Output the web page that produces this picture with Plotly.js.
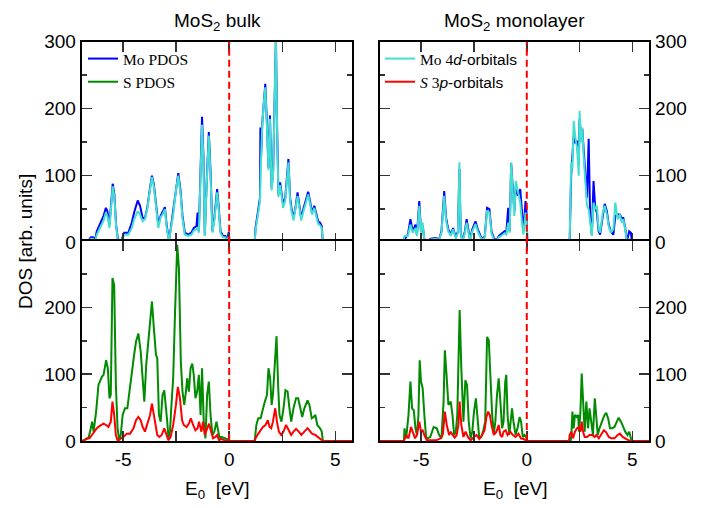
<!DOCTYPE html>
<html>
<head>
<meta charset="utf-8">
<script src="https://cdn.plot.ly/plotly-3.0.1.min.js"></script>
<style>html,body{margin:0;padding:0;background:#fff;}#chart{width:717px;height:508px;}</style>
</head>
<body>
<div id="chart"></div>
<script>
// ---------------- DATA ----------------
// Panel titles / axis labels
const columnTitles = ["MoS<sub>2</sub> bulk", "MoS<sub>2</sub> monolayer"];
const xAxisTitle = "E<sub>0</sub>  [eV]";
const yAxisTitle = "DOS [arb. units]";
const xTickVals = [-5, 0, 5];
const xTickText = ["-5", "0", "5"];
const yTickValsTop = [0, 100, 200, 300];
const yTickValsBottom = [0, 100, 200];

// MoS2 bulk, Mo PDOS (blue)
const bulkMoPdosE = [-6.95,-6.86,-6.63,-6.52,-6.42,-6.32,-6.24,-6.08,-5.92,-5.81,-5.74,-5.64,-5.58,-5.49,-5.41,-5.33,-5.25,-5.17,-5.06,-4.95,-4.75,-4.59,-4.48,-4.31,-4.20,-4.08,-3.97,-3.86,-3.73,-3.64,-3.55,-3.45,-3.34,-3.23,-3.14,-3.03,-2.95,-2.84,-2.75,-2.64,-2.51,-2.40,-2.29,-2.20,-2.09,-1.93,-1.78,-1.67,-1.54,-1.49,-1.43,-1.35,-1.28,-1.21,-1.15,-1.06,-0.96,-0.88,-0.79,-0.70,-0.57,-0.49,-0.41,-0.29,-0.18,-0.10,-0.02,0.01,1.18,1.20,1.24,1.31,1.38,1.45,1.47,1.50,1.56,1.64,1.70,1.78,1.85,1.92,2.00,2.07,2.15,2.20,2.26,2.32,2.40,2.48,2.54,2.64,2.71,2.79,2.87,2.93,3.03,3.12,3.22,3.31,3.39,3.51,3.62,3.72,3.81,3.90,4.01,4.09,4.19,4.28,4.36,4.41,5.80];
const bulkMoPdos = [0,2,3,8,8,5,17,28,40,52,47,27,52,88,72,27,7,1,5,15,15,30,45,63,55,37,37,52,82,100,87,55,27,40,45,53,27,3,22,47,82,104,77,40,15,12,15,22,25,45,17,117,188,127,12,92,165,107,17,37,80,52,17,10,10,3,16,0,0,1,22,37,57,67,172,127,180,215,237,177,112,190,82,107,217,305,167,72,90,72,57,67,97,125,67,52,37,52,75,57,37,52,67,76,62,45,55,45,32,30,25,0,0];

// MoS2 bulk, Mo 4d orbitals (turquoise)
const bulkMo4dE = [-6.95,-6.86,-6.63,-6.52,-6.42,-6.32,-6.24,-6.08,-5.92,-5.81,-5.74,-5.64,-5.58,-5.49,-5.41,-5.33,-5.25,-5.17,-5.06,-4.95,-4.75,-4.59,-4.48,-4.31,-4.20,-4.08,-3.97,-3.86,-3.73,-3.64,-3.55,-3.45,-3.34,-3.23,-3.14,-3.03,-2.95,-2.84,-2.75,-2.64,-2.51,-2.40,-2.29,-2.20,-2.09,-1.93,-1.78,-1.67,-1.54,-1.49,-1.43,-1.35,-1.28,-1.21,-1.15,-1.06,-0.96,-0.88,-0.79,-0.70,-0.57,-0.49,-0.41,-0.29,-0.18,-0.10,-0.02,0.01,1.18,1.20,1.24,1.31,1.38,1.45,1.50,1.56,1.64,1.70,1.78,1.85,1.92,2.00,2.07,2.15,2.20,2.26,2.32,2.40,2.48,2.54,2.64,2.71,2.79,2.87,2.93,3.03,3.12,3.22,3.31,3.39,3.51,3.62,3.72,3.81,3.90,4.01,4.09,4.19,4.28,4.36,4.41,5.80];
const bulkMo4d = [0,1,2,6,6,3,12,22,33,45,40,22,48,84,68,25,5,0,4,12,12,22,35,47,42,32,35,50,80,98,84,52,22,38,42,50,24,2,18,42,78,100,73,36,12,10,12,18,20,22,15,110,176,120,10,88,160,100,15,33,75,48,14,8,8,2,10,0,0,0,18,33,52,62,125,178,212,232,172,108,185,78,102,212,305,162,68,86,68,52,63,92,120,62,48,33,48,70,52,33,48,62,72,58,42,52,42,28,26,22,0,0];

// MoS2 monolayer, Mo PDOS (blue)
const monoMoE = [-6.95,-5.87,-5.79,-5.63,-5.51,-5.40,-5.27,-5.20,-5.09,-5.01,-4.93,-4.85,-4.73,-4.54,-4.30,-4.15,-4.04,-3.91,-3.82,-3.72,-3.60,-3.49,-3.36,-3.26,-3.19,-3.13,-3.05,-2.93,-2.85,-2.77,-2.69,-2.58,-2.43,-2.32,-2.19,-2.08,-1.99,-1.88,-1.77,-1.67,-1.56,-1.44,-1.33,-1.22,-1.14,-1.05,-0.97,-0.88,-0.81,-0.74,-0.66,-0.59,-0.52,-0.42,-0.31,-0.23,-0.16,-0.06,-0.02,0.03,2.00,2.03,2.10,2.16,2.22,2.30,2.38,2.46,2.50,2.57,2.63,2.69,2.77,2.85,2.93,3.00,3.08,3.16,3.24,3.32,3.40,3.47,3.60,3.69,3.79,3.88,3.97,4.10,4.19,4.30,4.41,4.49,4.57,4.66,4.74,4.85,4.93,4.98,5.80];
const monoMoPdos = [0,0,5,12,35,17,27,12,62,17,25,5,2,6,7,5,17,77,37,20,12,22,8,17,110,17,2,17,35,17,5,20,32,20,10,5,10,52,50,17,7,3,10,13,15,17,15,52,17,118,80,47,85,70,80,37,17,62,52,0,0,2,100,130,160,150,152,117,185,160,170,140,107,67,155,37,12,92,52,45,17,12,40,58,47,27,17,12,40,42,42,37,37,22,2,17,15,0,0];
// MoS2 monolayer, Mo 4d orbitals (turquoise)
const monoMo4d = [0,0,10,10,27,15,22,10,55,15,30,4,2,5,6,4,15,70,33,17,10,20,6,15,120,15,1,15,30,15,4,17,28,17,8,4,8,48,45,14,5,2,8,10,12,14,12,30,15,120,75,40,92,75,60,30,12,45,40,0,0,2,120,110,182,157,142,100,197,150,172,130,95,55,50,30,10,60,50,55,20,15,45,55,42,25,15,20,60,35,42,30,35,20,2,5,3,0,0];

// MoS2 bulk, S PDOS (green)
const bulkSPdosE = [-6.95,-6.86,-6.63,-6.52,-6.46,-6.39,-6.27,-6.16,-6.00,-5.92,-5.80,-5.72,-5.64,-5.58,-5.50,-5.42,-5.34,-5.26,-5.18,-5.11,-5.02,-4.91,-4.80,-4.70,-4.59,-4.48,-4.39,-4.28,-4.17,-4.08,-4.00,-3.91,-3.80,-3.70,-3.64,-3.55,-3.45,-3.39,-3.31,-3.23,-3.14,-3.06,-2.98,-2.92,-2.86,-2.79,-2.73,-2.64,-2.56,-2.51,-2.45,-2.37,-2.28,-2.20,-2.12,-2.04,-1.98,-1.90,-1.82,-1.74,-1.67,-1.59,-1.51,-1.43,-1.35,-1.28,-1.20,-1.12,-1.04,-0.96,-0.88,-0.79,-0.70,-0.60,-0.52,-0.45,-0.37,-0.21,-0.10,-0.01,1.20,1.28,1.37,1.48,1.59,1.68,1.78,1.85,1.93,2.00,2.06,2.15,2.23,2.31,2.37,2.46,2.56,2.65,2.75,2.84,2.92,3.03,3.15,3.25,3.34,3.44,3.54,3.69,3.78,3.89,3.98,4.06,4.15,4.28,4.36,4.41,4.48,5.80];
const bulkSPdos = [0,1,4,19,29,14,44,84,96,99,121,109,64,69,244,234,84,19,1,9,39,49,49,74,106,129,149,161,134,94,59,114,154,191,209,169,129,124,39,29,69,76,54,29,4,14,49,94,184,244,294,259,119,74,54,74,94,74,109,116,99,64,74,99,39,109,29,4,69,89,39,9,14,29,14,4,6,4,3,0,0,24,34,34,49,59,69,109,94,54,69,109,157,79,39,29,49,76,74,49,29,49,64,64,49,36,49,61,54,34,36,39,24,19,14,1,0,0];

// MoS2 bulk, S 3p orbitals (red)
const bulkS3pE = [-6.95,-6.86,-6.71,-6.58,-6.47,-6.36,-6.24,-6.08,-5.92,-5.80,-5.69,-5.58,-5.50,-5.42,-5.34,-5.25,-5.11,-4.98,-4.83,-4.67,-4.51,-4.39,-4.28,-4.17,-4.08,-3.97,-3.86,-3.73,-3.64,-3.55,-3.45,-3.39,-3.29,-3.18,-3.06,-2.95,-2.86,-2.76,-2.64,-2.51,-2.42,-2.32,-2.22,-2.14,-2.01,-1.90,-1.81,-1.70,-1.59,-1.49,-1.42,-1.31,-1.23,-1.15,-1.04,-0.95,-0.85,-0.76,-0.65,-0.57,-0.48,-0.37,-0.21,-0.01,1.20,1.24,1.37,1.48,1.59,1.71,1.82,1.90,1.98,2.06,2.17,2.25,2.34,2.45,2.56,2.68,2.79,2.92,3.03,3.15,3.28,3.40,3.54,3.69,3.78,3.90,4.06,4.17,4.28,4.41,5.80];
const bulkS3p = [0,0,4,4,9,14,19,23,26,24,21,29,59,39,9,0,4,6,11,11,19,31,36,31,21,14,24,39,56,39,19,9,6,9,19,9,1,6,24,54,81,64,31,24,21,26,34,24,16,19,29,14,29,9,19,26,14,4,6,9,1,3,1,0,0,4,11,16,21,24,31,21,19,29,49,29,14,9,14,24,16,9,14,18,14,9,14,19,16,11,9,6,4,0,0];

// MoS2 monolayer, S PDOS (green)
const monoSPdosE = [-6.95,-5.82,-5.79,-5.71,-5.60,-5.51,-5.43,-5.35,-5.27,-5.20,-5.13,-5.07,-5.01,-4.93,-4.85,-4.77,-4.69,-4.57,-4.41,-4.26,-4.15,-4.04,-3.94,-3.88,-3.80,-3.71,-3.60,-3.52,-3.44,-3.36,-3.29,-3.24,-3.18,-3.10,-3.00,-2.91,-2.83,-2.75,-2.66,-2.58,-2.50,-2.41,-2.33,-2.25,-2.16,-2.07,-1.97,-1.91,-1.88,-1.80,-1.72,-1.64,-1.56,-1.49,-1.41,-1.33,-1.25,-1.17,-1.10,-1.02,-0.97,-0.91,-0.83,-0.77,-0.70,-0.63,-0.53,-0.44,-0.34,-0.27,-0.19,-0.11,-0.03,0.03,2.08,2.11,2.16,2.22,2.28,2.36,2.43,2.47,2.54,2.60,2.66,2.74,2.82,2.90,2.97,3.05,3.13,3.22,3.29,3.36,3.44,3.57,3.68,3.76,3.85,3.94,4.04,4.15,4.26,4.35,4.46,4.57,4.66,4.77,4.85,4.93,4.98,5.80];
const monoSPdos = [0,0,19,4,39,89,49,46,19,9,39,121,89,79,39,6,4,6,21,19,9,4,59,136,99,54,59,39,9,14,39,109,196,109,29,91,84,29,4,14,44,64,29,4,6,14,29,109,156,151,99,39,11,29,69,94,59,19,29,89,99,39,9,29,49,29,9,19,36,29,6,9,6,0,0,9,44,19,39,36,39,14,44,101,59,14,59,19,49,31,9,64,29,9,19,29,39,42,34,19,19,21,29,35,29,21,14,9,14,4,0,0];

// MoS2 monolayer, S 3p orbitals (red)
const monoS3pE = [-6.95,-5.82,-5.71,-5.60,-5.48,-5.37,-5.29,-5.20,-5.09,-5.01,-4.93,-4.85,-4.73,-4.54,-4.30,-4.07,-3.97,-3.88,-3.79,-3.68,-3.60,-3.51,-3.41,-3.32,-3.24,-3.18,-3.10,-3.00,-2.90,-2.79,-2.66,-2.50,-2.38,-2.25,-2.11,-2.00,-1.91,-1.83,-1.75,-1.67,-1.56,-1.44,-1.33,-1.25,-1.17,-1.10,-1.00,-0.91,-0.78,-0.66,-0.53,-0.39,-0.28,-0.16,0.03,2.00,2.03,2.11,2.19,2.28,2.38,2.47,2.54,2.60,2.66,2.74,2.85,2.97,3.10,3.21,3.29,3.41,3.52,3.65,3.76,3.88,3.99,4.15,4.30,4.41,4.54,4.69,4.82,4.93,5.80];
const monoS3p = [0,0,9,4,21,9,4,9,29,14,16,9,1,1,1,4,11,44,24,9,14,9,5,9,24,59,24,6,14,6,1,6,9,3,9,16,36,44,39,24,9,14,24,9,6,14,16,9,14,9,6,11,4,3,0,0,9,14,4,14,19,21,14,29,14,6,6,9,9,6,9,4,9,16,13,6,4,4,9,11,6,3,1,0,0];

// ---------------- STYLE ----------------
const BLUE = "#0000ff", CYAN = "#40e0d0", GREEN = "#008b00", RED = "#ff0000";
const SANS = "Liberation Sans, Arial, Helvetica, sans-serif";
const SERIF = "Liberation Serif, Times New Roman, serif";
const XRANGE = [-6.95, 5.8];
const YRANGE = [0, 300];
const W = 717, H = 508;
const px = v => v / W;
const py = v => (H - v) / H;
const leftDom = [px(81.7), px(352.3)];
const rightDom = [px(380), px(649.3)];
// panels overlap by the line width so the shared border is drawn once
const topDom = [py(242.7), py(41.7)];
const botDom = [py(441), py(240.7)];

function line(x, y, color, xa, ya, name, legend, show) {
  return {type: "scatter", mode: "lines", x: x, y: y, name: name,
    xaxis: xa, yaxis: ya, line: {color: color, width: 2},
    showlegend: !!show, legend: legend, hoverinfo: "skip"};
}

const traces = [
  line(bulkMoPdosE, bulkMoPdos, BLUE, "x", "y", "Mo PDOS", "legend", true),
  line(bulkMo4dE, bulkMo4d, CYAN, "x", "y", "Mo 4d-orbitals", "legend", false),
  line(bulkSPdosE, bulkSPdos, GREEN, "x3", "y3", "S PDOS", "legend", true),
  line(bulkS3pE, bulkS3p, RED, "x3", "y3", "S 3p-orbitals", "legend", false),
  line(monoMoE, monoMoPdos, BLUE, "x2", "y2", "Mo PDOS", "legend2", false),
  line(monoMoE, monoMo4d, CYAN, "x2", "y2",
    'Mo 4<span style="font-family:Liberation Sans;font-style:italic">d</span><span style="font-family:Liberation Sans">-orbitals</span>', "legend2", true),
  line(monoSPdosE, monoSPdos, GREEN, "x4", "y4", "S PDOS", "legend2", false),
  line(monoS3pE, monoS3p, RED, "x4", "y4",
    '<i>S</i> 3<span style="font-family:Liberation Sans;font-style:italic">p</span><span style="font-family:Liberation Sans">-orbitals</span>', "legend2", true)
];

function xAxis(dom, anchor, labels) {
  return {domain: dom, anchor: anchor, range: XRANGE, showgrid: false, zeroline: false,
    showline: true, linecolor: "#000", linewidth: 2, mirror: "ticks",
    ticks: "inside", ticklen: 10, tickwidth: 1.5, tickcolor: "#333",
    tickmode: "array", tickvals: xTickVals, ticktext: xTickText,
    minor: {dtick: 2.5, tick0: 0, ticks: "inside", ticklen: 10, tickwidth: 1.5, tickcolor: "#333", showgrid: false},
    showticklabels: labels, tickfont: {family: SANS, size: 19, color: "#000"}};
}
function yAxis(dom, anchor, side, vals) {
  return {domain: dom, anchor: anchor, side: side, range: YRANGE, showgrid: false, zeroline: false,
    showline: true, linecolor: "#000", linewidth: 2, mirror: "ticks",
    ticks: "inside", ticklen: 10, tickwidth: 1.5, tickcolor: "#333",
    tickmode: "array", tickvals: vals,
    minor: {dtick: 50, tick0: 0, ticks: "inside", ticklen: 5, tickwidth: 1.5, tickcolor: "#333", showgrid: false},
    tickfont: {family: SANS, size: 19, color: "#000"}};
}

function vdash(xa, ya) {
  return {type: "line", xref: xa, yref: ya + " domain", x0: 0, x1: 0, y0: 0, y1: 1,
    line: {color: RED, width: 2, dash: "7px,4px"}};
}

function note(text, x, y, angle) {
  return {text: text, xref: "paper", yref: "paper", x: x, y: y, showarrow: false,
    xanchor: "center", yanchor: "middle", textangle: angle || 0,
    font: {family: SANS, size: 19, color: "#000"}};
}

const layout = {
  width: W, height: H, margin: {l: 0, r: 0, t: 0, b: 0},
  paper_bgcolor: "#fff", plot_bgcolor: "#fff",
  xaxis: xAxis(leftDom, "y", false),
  yaxis: yAxis(topDom, "x", "left", yTickValsTop),
  xaxis2: xAxis(rightDom, "y2", false),
  yaxis2: yAxis(topDom, "x2", "right", yTickValsTop),
  xaxis3: xAxis(leftDom, "y3", true),
  yaxis3: yAxis(botDom, "x3", "left", yTickValsBottom),
  xaxis4: xAxis(rightDom, "y4", true),
  yaxis4: yAxis(botDom, "x4", "right", yTickValsBottom),
  shapes: [vdash("x", "y"), vdash("x2", "y2"), vdash("x3", "y3"), vdash("x4", "y4")],
  legend: {x: px(83), y: py(42), xanchor: "left", yanchor: "top", bgcolor: "rgba(0,0,0,0)",
    borderwidth: 0, tracegroupgap: 0, itemwidth: 30, font: {family: SERIF, size: 15.5, color: "#000"}},
  legend2: {x: px(380), y: py(42), xanchor: "left", yanchor: "top", bgcolor: "rgba(0,0,0,0)",
    borderwidth: 0, tracegroupgap: 0, itemwidth: 30, font: {family: SERIF, size: 15.5, color: "#000"}},
  annotations: [
    note(columnTitles[0], px(217), py(22)),
    note(columnTitles[1], px(514.5), py(22)),
    note(xAxisTitle, px(217), py(490)),
    note(xAxisTitle, px(515), py(490)),
    note(yAxisTitle, px(25), py(242), -90)
  ]
};

Plotly.newPlot("chart", traces, layout, {staticPlot: true, displayModeBar: false});
</script>
</body>
</html>
